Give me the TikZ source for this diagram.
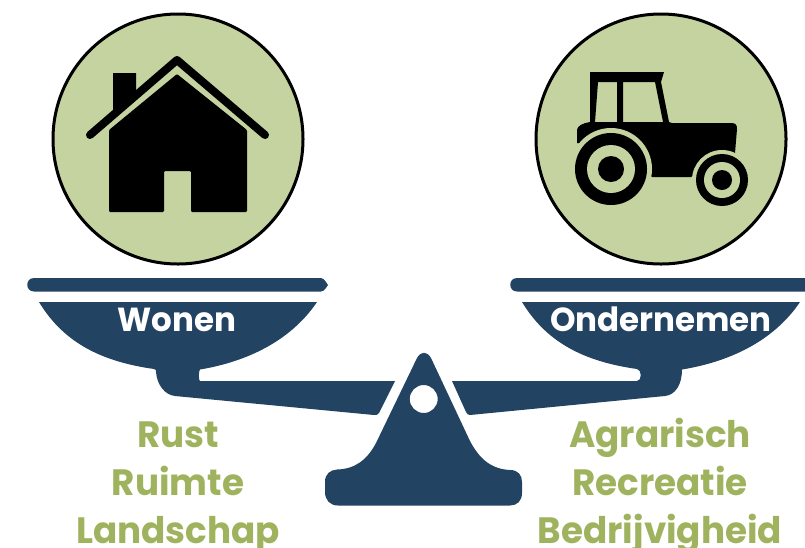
\documentclass[tikz,border=0pt]{standalone}
\usepackage{fontspec}
\newfontfamily\labelfont{Poppins}[FakeStretch=0.975]
\definecolor{navy}{HTML}{234362}
\definecolor{sage}{HTML}{C4D3A0}
\definecolor{olive}{HTML}{9FB35F}
\tikzset{
  x=0.75pt,y=-0.75pt,
  disc/.style={draw=black,line width=2.25pt,fill=sage},
  pan/.style={fill=navy,draw=none},
  icon/.style={fill=black,draw=none},
  panlabel/.style={anchor=base,inner sep=0pt,text=white,font=\labelfont\bfseries\fontsize{25pt}{25pt}\selectfont},
  wordlabel/.style={anchor=base,inner sep=0pt,text=olive,font=\labelfont\bfseries\fontsize{27.5pt}{27.5pt}\selectfont}
}
\begin{document}
\begin{tikzpicture}
\useasboundingbox (0,0) rectangle (805,547);
% discs
\draw[disc] (178,139) circle (125);
\draw[disc] (661,139) circle (125);
% house
\fill[icon] (113,73) -- (136,73) -- (136,92) -- (113,112) -- cycle;
\draw[line width=6pt,line cap=round,line join=round] (90,135) -- (177,60) -- (265,135);
\fill[icon,rounded corners=0.8pt] (177,74) -- (109,130) -- (109,212) -- (164,212) -- (164,171) -- (191,171) -- (191,212) -- (247,212) -- (247,130) -- cycle;
% tractor
\fill[icon,even odd rule]
  (590,72) -- (664,72) -- (661,82) -- (669,122) -- (672,123) -- (731,123) .. controls (736,123) and (737,125) .. (737,129) -- (735,153) -- (691,177) -- (652,177) -- (620,150) -- (577,143) -- (577,130) .. controls (577,126) and (583,123) .. (590,122) -- cycle
  (598,82) -- (617,82) -- (617,122) -- (595,122) -- cycle
  (623,82) -- (655,82) -- (663,122) -- (623,122) -- cycle;
\fill[sage] (611,169) circle (41);
\fill[sage] (722,180) circle (30);
\fill[icon] (611,169) circle (36);
\fill[sage] (611,169) circle (24);
\fill[icon] (611,169) circle (13);
\fill[icon] (722,180) circle (26);
\fill[sage] (722,180) circle (18);
\fill[icon] (722,180) circle (10);
% pan lids
\fill[pan] (34,278) -- (321,278) .. controls (323,278) and (324,279) .. (328,285) .. controls (324,291) and (323,291.5) .. (321,291.5) -- (34,291.5) .. controls (25,291.5) and (25,278) .. (34,278) -- cycle;
\fill[pan] (517,278) -- (805,278) -- (805,291.5) -- (517,291.5) .. controls (508,291.5) and (508,278) .. (517,278) -- cycle;
% left pan and beam
\fill[pan] (39,302) -- (317,302) .. controls (290,342) and (245,362) .. (200,369.5)
  .. controls (198.500,371) and (198.500,381) .. (200,381) -- (395,381) -- (379,413) .. controls (378,415) and (376,415) .. (374,415) -- (175,396)
  .. controls (165,395) and (157,385) .. (156,372) .. controls (156,370) and (156,369.500) .. (154,369)
  .. controls (105,362) and (65,345) .. (39,302) -- cycle;
% right pan and beam
\fill[pan] (522,302) -- (800,302) .. controls (773,342) and (728,362) .. (682,369.5)
  .. controls (682,385) and (675,395) .. (665,396) -- (470,415) .. controls (468,415) and (467,414) .. (466,412) -- (452,381) -- (637,381)
  .. controls (642,381) and (642,369.5) .. (637,369) .. controls (588,362) and (548,345) .. (522,302) -- cycle;
% fulcrum
\fill[pan,even odd rule] (417,358) .. controls (421,351) and (427,351) .. (431,358) -- (470,441) .. controls (480,460) and (492,469) .. (510,470)
  .. controls (518,470) and (522,475) .. (522,482) -- (522,493) .. controls (522,501) and (517,505.5) .. (510,505.5)
  -- (338,505.5) .. controls (330,505.5) and (325,500) .. (325,492) -- (325,482) .. controls (325,474) and (330,470) .. (337,469.5)
  .. controls (355,469) and (367,460) .. (376,443) -- cycle
  (423.700,399) circle (14);
% labels
\node[panlabel] (wonen) at (177,331) {Wonen};
\node[panlabel] (ondernemen) at (661,331) {Ondernemen};
\node[wordlabel] (rust) at (178,447) {Rust};
\node[wordlabel] (ruimte) at (178,495) {Ruimte};
\node[wordlabel] (landschap) at (178,543) {Landschap};
\node[wordlabel] (agrarisch) at (660,447) {Agrarisch};
\node[wordlabel] (recreatie) at (660,495) {Recreatie};
\node[wordlabel] (bedrijvigheid) at (660,543) {Bedrijvigheid};
\end{tikzpicture}
\end{document}
